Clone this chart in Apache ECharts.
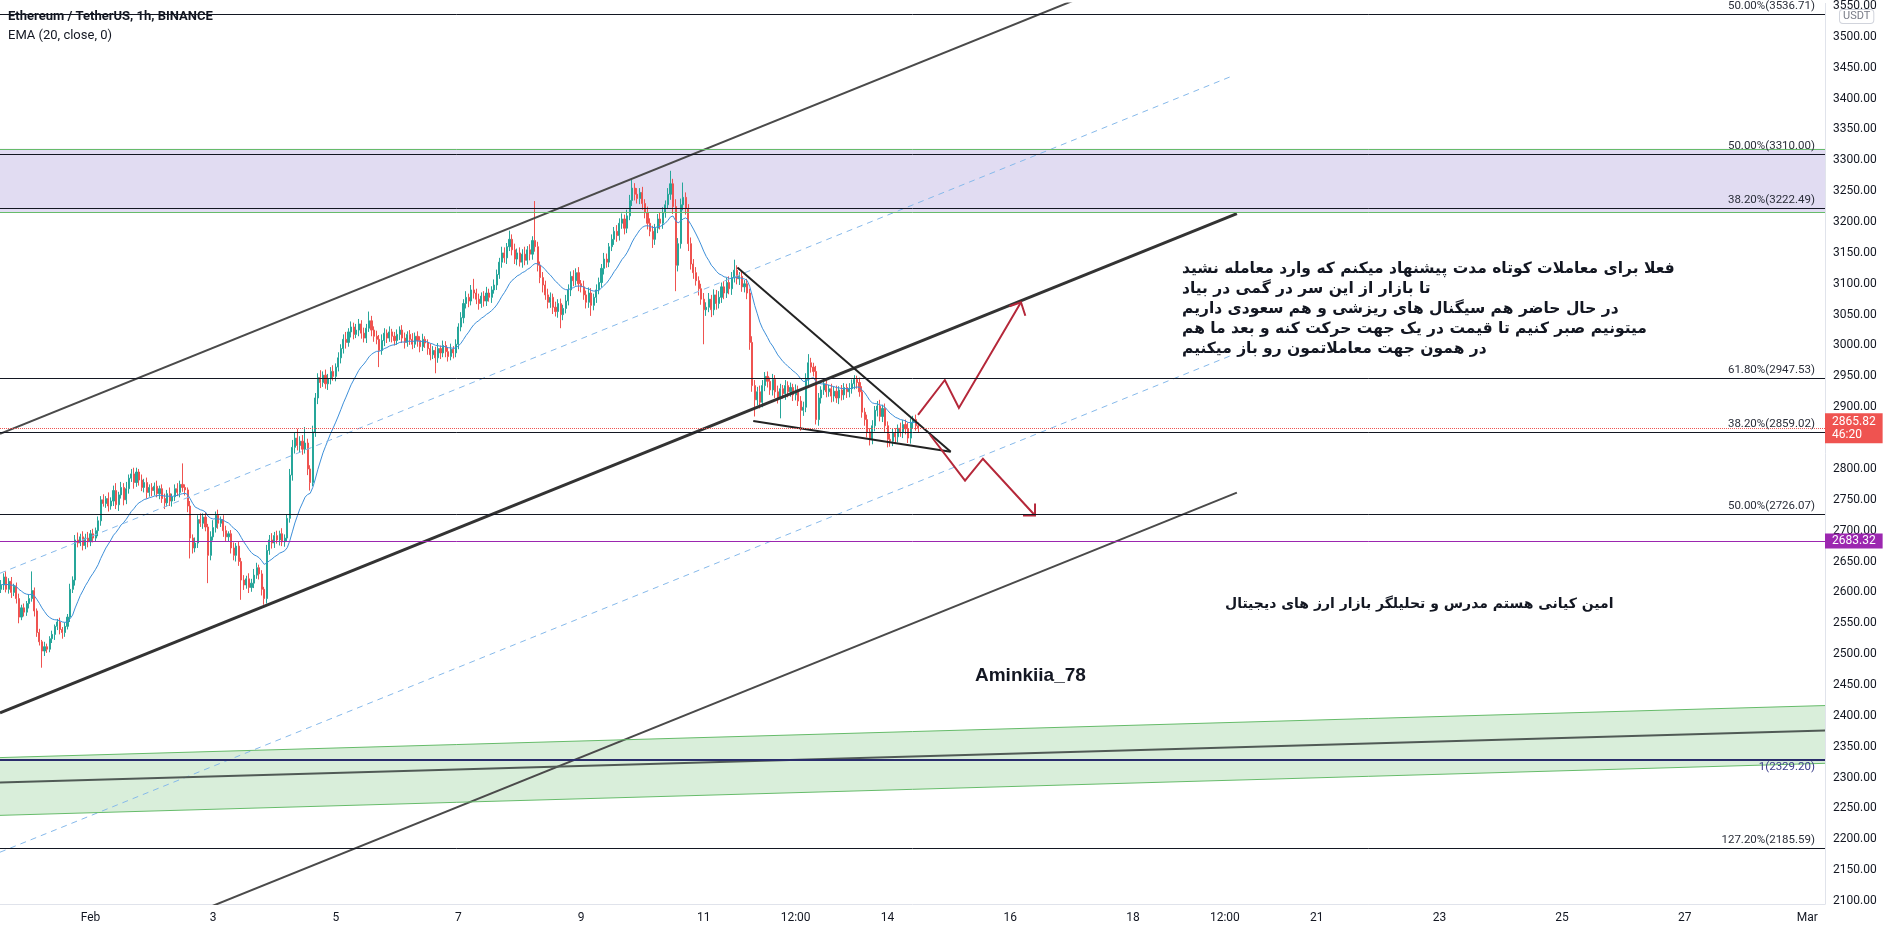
<!DOCTYPE html>
<html>
<head>
<meta charset="utf-8">
<title>ETHUSDT 1h</title>
<script src="https://cdn.jsdelivr.net/npm/echarts@6/dist/echarts.min.js"></script>
<style>
html, body { margin: 0; padding: 0; background: #fff; }
#main { width: 1888px; height: 932px; }
</style>
</head>
<body>
<div id="main"></div>
<script>
// hourly candles, x = hours from Feb 1 00:00, first bar at hourStart
var hourStart = -35;
var firstOpen = 2605;
var closes = [
    2612, 2625, 2605, 2618, 2600, 2610, 2590, 2560, 2575, 2568, 2582, 2590,
    2603, 2570, 2535, 2520, 2505, 2512, 2508, 2525, 2532, 2545, 2552, 2540, 2535, 2545, 2560, 2605, 2620, 2685, 2680, 2690, 2676, 2688, 2682, 2695,
    2688, 2700, 2716, 2750, 2744, 2752, 2740, 2748, 2765, 2742, 2758, 2770, 2750, 2768, 2785, 2792, 2778, 2795, 2782, 2770, 2778, 2762, 2770, 2765,
    2772, 2760, 2768, 2752, 2745, 2760, 2748, 2755, 2768, 2762, 2775, 2770, 2766, 2740, 2688, 2672, 2680, 2718, 2712, 2722, 2706, 2660, 2690, 2705,
    2725, 2712, 2718, 2700, 2690, 2695, 2672, 2660, 2675, 2650, 2620, 2612, 2622, 2608, 2615, 2628, 2640, 2630, 2605, 2590, 2668, 2685, 2680, 2692,
    2685, 2695, 2682, 2688, 2720, 2790, 2835, 2850, 2838, 2845, 2832, 2842, 2800, 2778, 2860, 2915, 2948, 2940, 2952, 2938, 2946, 2958, 2950, 2965,
    2980, 2995, 3010, 3005, 3022, 3030, 3018, 3025, 3035, 3020, 3012, 3028, 3040, 3025, 3015, 3010, 2992, 3008, 3020, 3012, 3022, 3015, 3008, 3018,
    3025, 3012, 3005, 3018, 3010, 3002, 3015, 3008, 2998, 3010, 3004, 2995, 2985, 2992, 2980, 2995, 2988, 3000, 2990, 2982, 2994, 2988, 3002, 3030,
    3045, 3068, 3078, 3072, 3090, 3085, 3075, 3068, 3080, 3072, 3085, 3078, 3090, 3098, 3115, 3135, 3150, 3142, 3160, 3172, 3155, 3140, 3150, 3135,
    3148, 3138, 3155, 3148, 3170, 3160, 3130, 3110, 3098, 3082, 3070, 3078, 3062, 3055, 3068, 3050, 3060, 3072, 3090, 3112, 3105, 3118, 3100, 3095,
    3082, 3070, 3085, 3065, 3078, 3090, 3102, 3125, 3140, 3135, 3160, 3172, 3185, 3178, 3198, 3205, 3190, 3210, 3235, 3255, 3245, 3238, 3248, 3230,
    3215, 3198, 3185, 3172, 3190, 3205, 3198, 3215, 3228, 3245, 3262, 3225, 3130, 3165, 3228, 3240, 3222, 3165, 3132, 3118, 3105, 3092, 3075, 3058,
    3062, 3075, 3058, 3082, 3068, 3078, 3095, 3085, 3102, 3092, 3110, 3122, 3108, 3112, 3095, 3100, 3085, 3005, 2935, 2912, 2925, 2908, 2935, 2950,
    2942, 2928, 2945, 2925, 2915, 2930, 2922, 2935, 2925, 2932, 2920, 2928, 2910, 2895, 2900, 2945, 2972, 2965, 2958, 2880, 2915, 2928, 2938, 2925,
    2930, 2918, 2926, 2915, 2928, 2920, 2932, 2925, 2930, 2938, 2945, 2940, 2925, 2892, 2880, 2860, 2848, 2870, 2895, 2902, 2885, 2898, 2870, 2848,
    2845, 2858, 2852, 2866, 2860, 2872, 2865, 2850, 2875, 2880, 2870, 2865.82
];
var wickUp = [
    8, 6, 9, 5, 7, 4, 6, 8, 5, 7, 4, 6,
    31, 5, 4, 6, 3, 8, 5, 4, 6, 3, 5, 7, 4, 6, 5, 9, 6, 8, 12, 5, 9, 7, 10, 6,
    8, 5, 7, 6, 9, 4, 10, 6, 8, 12, 5, 9, 7, 11, 6, 8, 10, 7, 5, 9, 6, 8, 5, 7,
    6, 9, 5, 7, 8, 6, 10, 5, 7, 9, 6, 34, 5, 4, 8, 6, 9, 7, 10, 6, 8, 5, 9, 12,
    6, 9, 5, 7, 8, 4, 6, 9, 5, 7, 6, 8, 5, 9, 7, 10, 8, 5, 6, 4, 9, 8, 11, 6,
    8, 5, 9, 6, 7, 10, 12, 9, 15, 8, 10, 26, 7, 6, 10, 8, 7, 12, 6, 9, 8, 7, 10, 6,
    9, 7, 8, 12, 6, 9, 7, 10, 8, 6, 9, 7, 15, 8, 6, 9, 7, 10, 8, 6, 9, 5, 7, 8,
    6, 8, 9, 5, 7, 10, 6, 8, 7, 9, 5, 6, 8, 7, 6, 9, 5, 8, 7, 6, 9, 5, 8, 6,
    9, 7, 10, 6, 8, 18, 7, 9, 6, 8, 10, 7, 6, 9, 8, 7, 10, 9, 6, 14, 8, 10, 7, 9,
    8, 12, 6, 9, 7, 64, 8, 6, 9, 7, 10, 8, 6, 9, 7, 8, 6, 10, 9, 8, 10, 7, 9, 6,
    10, 7, 9, 8, 6, 9, 8, 7, 10, 9, 6, 8, 7, 10, 8, 9, 7, 10, 9, 15, 8, 10, 7, 9,
    7, 10, 8, 9, 7, 8, 10, 9, 7, 10, 21, 8, 12, 9, 10, 24, 8, 7, 10, 8, 9, 7, 8, 10,
    8, 10, 7, 9, 8, 10, 7, 9, 8, 10, 9, 17, 8, 7, 9, 6, 8, 7, 10, 9, 8, 10, 9, 7,
    8, 6, 9, 7, 10, 8, 6, 9, 7, 8, 6, 9, 7, 8, 9, 10, 14, 8, 7, 9, 8, 6, 9, 7,
    6, 8, 7, 9, 6, 8, 7, 6, 9, 7, 7, 6, 8, 9, 7, 8, 6, 9, 7, 8, 10, 6, 8, 7,
    9, 7, 8, 6, 9, 7, 8, 10, 7, 6, 8, 5
];
var wickDn = [
    6, 8, 5, 7, 9, 6, 8, 10, 5, 7, 6, 8,
    5, 9, 7, 6, 27, 8, 6, 5, 7, 9, 6, 8, 10, 7, 5, 8, 6, 9, 7, 5, 8, 6, 9, 7,
    7, 6, 9, 8, 5, 7, 9, 6, 8, 7, 10, 6, 9, 7, 8, 6, 10, 7, 9, 6, 8, 10, 7, 9,
    8, 6, 9, 7, 10, 6, 8, 9, 7, 6, 8, 7, 9, 10, 33, 9, 7, 8, 6, 9, 7, 45, 8, 6,
    8, 9, 6, 10, 8, 7, 9, 8, 10, 7, 32, 8, 6, 9, 7, 8, 6, 9, 10, 10, 8, 7, 9, 8,
    6, 9, 7, 8, 6, 7, 9, 10, 8, 12, 9, 7, 10, 13, 6, 8, 10, 9, 7, 8, 10, 9, 7, 8,
    7, 9, 8, 10, 7, 9, 8, 6, 10, 9, 7, 8, 6, 10, 9, 8, 27, 7, 9, 8, 6, 10, 8, 7,
    9, 8, 10, 7, 9, 8, 6, 10, 9, 7, 8, 10, 9, 7, 25, 8, 10, 7, 9, 8, 6, 9, 7, 8,
    7, 9, 8, 10, 7, 9, 8, 10, 7, 9, 8, 7, 9, 6, 8, 7, 9, 8, 10, 7, 9, 8, 10, 7,
    9, 8, 7, 10, 9, 8, 10, 9, 12, 8, 10, 9, 11, 8, 10, 22, 9, 8, 7, 10, 9, 8, 12, 9,
    8, 10, 9, 17, 8, 9, 7, 8, 10, 9, 8, 7, 9, 10, 8, 9, 10, 8, 7, 9, 10, 8, 9, 10,
    9, 10, 8, 14, 9, 8, 10, 9, 8, 7, 9, 12, 42, 10, 8, 9, 10, 12, 9, 10, 8, 11, 9, 56,
    10, 8, 12, 9, 10, 8, 9, 10, 8, 9, 10, 8, 9, 10, 8, 9, 10, 12, 10, 27, 9, 10, 8, 9,
    10, 8, 9, 10, 9, 33, 8, 10, 9, 8, 10, 9, 8, 33, 9, 8, 10, 9, 8, 8, 10, 9, 8, 9,
    8, 10, 9, 8, 10, 9, 8, 10, 9, 8, 9, 10, 8, 9, 10, 9, 10, 8, 9, 10, 8, 9, 10, 13,
    9, 8, 10, 9, 8, 10, 9, 8, 9, 10, 8, 7
];

var xLabelHours = [0, 48, 96, 144, 192, 240, 276, 312, 360, 408, 444, 480, 528, 576, 624, 672];
var xLabelTexts = ['Feb', '3', '5', '7', '9', '11', '12:00', '14', '16', '18', '12:00', '21', '23', '25', '27', 'Mar'];
var yTickValues = [2100, 2150, 2200, 2250, 2300, 2350, 2400, 2450, 2500, 2550, 2600, 2650, 2700, 2750, 2800,
    2850, 2900, 2950, 3000, 3050, 3100, 3150, 3200, 3250, 3300, 3350, 3400, 3450, 3500, 3550];

// fib levels drawn across the chart
var fibLevels = [3536.71, 3310.00, 3222.49, 2947.53, 2859.02, 2726.07, 2329.20, 2185.59];
var fibRatios = ['50.00%', '50.00%', '38.20%', '61.80%', '38.20%', '50.00%', '1', '127.20%'];
var zoneTop = 3318.6, zoneBottom = 3216.0;
var priceNow = 2865.82, countdown = '46:20';
var alertLevel = 2683.32;

// drawings, [hour, price]
var channelUpper = [[-35.42, 2857.0], [448.7, 3665.6]];
var channelMain = [[-35.42, 2405.0], [448.7, 3213.6]];
var channelLower = [[-35.42, 1953.2], [448.7, 2761.7]];
var channelMidUpper = [[-35.42, 2631.0], [446.0, 3435.1]];
var channelMidLower = [[-35.42, 2179.1], [446.0, 2983.0]];
var wedgeTop = [[253.2, 3126.5], [336.7, 2827.9]];
var wedgeBottom = [[259.4, 2877.5], [336.7, 2827.9]];
var arrowUp = [[323.9, 2887.6], [334.4, 2944.1], [339.9, 2898.9], [364.2, 3070.0]];
var arrowUpHead = [[359.7, 3063.6], [364.2, 3070.0], [365.9, 3048.2]];
var arrowDown = [[328.6, 2855.4], [342.3, 2781.1], [349.3, 2816.6], [369.7, 2724.6]];
var arrowDownHead = [[369.7, 2744.0], [369.7, 2724.6], [365.0, 2724.6]];
var bandUpper = [[-35.42, 2332.4], [678.9, 2416.7]];
var bandLower = [[-35.42, 2238.8], [678.9, 2323.1]];
var bandMiddle = [[-35.42, 2292.1], [678.9, 2376.3]];

var noteLines = [
    'فعلا برای معاملات کوتاه مدت پیشنهاد میکنم که وارد معامله نشید',
    'تا بازار از این سر در گمی در بیاد',
    'در حال حاضر هم سیگنال های ریزشی و هم سعودی داریم',
    'میتونیم صبر کنیم تا قیمت در یک جهت حرکت کنه و بعد ما هم',
    'در همون جهت معاملاتمون رو باز میکنیم'
];
var authorLine = 'امین کیانی هستم مدرس و تحلیلگر بازار ارز های دیجیتال';
var authorTag = 'Aminkiia_78';

var xMin = -35.42, xMax = 678.9;
var yMin = 2095.2, yMax = 3554.2;

var candles = [];
var ema = [];
var prev = firstOpen, e = closes[0];
for (var i = 0; i < closes.length; i++) {
    var o = prev, c = closes[i];
    candles.push([hourStart + i, o, c, Math.min(o, c) - wickDn[i], Math.max(o, c) + wickUp[i]]);
    e = i === 0 ? c : e + (c - e) * 2 / 21;
    ema.push([hourStart + i, e]);
    prev = c;
}

var labelMap = {};
xLabelHours.forEach(function (h, i) { labelMap[h] = xLabelTexts[i]; });

function drawing(pts, color, width, type) {
    return {
        type: 'line', data: pts, symbol: 'none', showSymbol: false, silent: true, z: 4,
        lineStyle: { color: color, width: width, type: type || 'solid', join: 'miter' }
    };
}

function polygonSeries(corners, fill, z) {
    return {
        type: 'custom', silent: true, z: z, clip: true, data: [[xMin, yMin]],
        renderItem: function (params, api) {
            return {
                type: 'polygon',
                shape: { points: corners.map(function (p) { return api.coord(p); }) },
                style: { fill: fill }
            };
        }
    };
}

var marks = fibLevels.map(function (v, i) {
    var isOne = fibRatios[i] === '1';
    return {
        yAxis: v,
        lineStyle: { color: isOne ? '#2a2d6b' : '#131722', width: isOne ? 2 : 1, type: 'solid' },
        label: {
            show: true, position: isOne ? 'insideEndBottom' : 'insideEndTop',
            formatter: fibRatios[i] + '(' + v.toFixed(2) + ')',
            color: isOne ? '#3b3d8a' : '#2a2e39', fontSize: 11.5, distance: [10, 2]
        }
    };
});
marks.push({ yAxis: zoneTop, lineStyle: { color: '#66bb6a', width: 1, type: 'solid' }, label: { show: false } });
marks.push({ yAxis: zoneBottom, lineStyle: { color: '#66bb6a', width: 1, type: 'solid' }, label: { show: false } });
marks.push({
    yAxis: alertLevel,
    lineStyle: { color: '#9c27b0', width: 1, type: 'solid' },
    label: {
        show: true, position: 'end', distance: 0, formatter: alertLevel.toFixed(2),
        backgroundColor: '#9c27b0', color: '#fff', fontSize: 12, lineHeight: 13, padding: [1, 7]
    }
});
marks.push({
    yAxis: priceNow,
    lineStyle: { color: '#ef5350', width: 1, type: 'dotted' },
    label: {
        show: true, position: 'end', distance: 0, formatter: priceNow.toFixed(2) + '\n' + countdown,
        backgroundColor: '#ef5350', color: '#fff', fontSize: 12, lineHeight: 13, padding: [2, 7]
    }
});

var myChart = echarts.init(document.getElementById('main'));
var option = {
    animation: false,
    backgroundColor: '#ffffff',
    textStyle: { fontFamily: 'Roboto, sans-serif' },
    title: {
        left: 8, top: 10, padding: 0, itemGap: 6,
        text: 'Ethereum / TetherUS, 1h, BINANCE',
        subtext: 'EMA (20, close, 0)',
        textStyle: { fontSize: 13, fontWeight: 'bold', color: '#131722', fontFamily: 'Roboto' },
        subtextStyle: { fontSize: 13, color: '#131722', fontFamily: 'Roboto' }
    },
    grid: { left: 0, right: 63, top: 0, bottom: 28, containLabel: false },
    xAxis: {
        type: 'value', min: xMin, max: xMax,
        splitLine: { show: false },
        axisTick: { show: false },
        axisLine: { show: true, onZero: false, lineStyle: { color: '#e0e3eb' } },
        axisLabel: {
            customValues: xLabelHours, color: '#131722', fontSize: 12, margin: 8,
            formatter: function (v) { return labelMap[v] || ''; }
        }
    },
    yAxis: {
        type: 'value', position: 'right', min: yMin, max: yMax, scale: true,
        splitLine: { show: false },
        axisTick: { show: false },
        axisLine: { show: true, onZero: false, lineStyle: { color: '#e0e3eb' } },
        axisLabel: {
            customValues: yTickValues, color: '#131722', fontSize: 12, margin: 8,
            formatter: function (v) { return v.toFixed(2); }
        }
    },
    series: [
        polygonSeries([[xMin, zoneTop], [xMax, zoneTop], [xMax, zoneBottom], [xMin, zoneBottom]], '#e1dcf2', 0),
        polygonSeries([bandUpper[0], bandUpper[1], bandLower[1], bandLower[0]], 'rgba(102,187,106,0.25)', 0),
        {
            type: 'candlestick', data: candles, z: 2, barWidth: 1.6,
            encode: { x: 0, y: [1, 2, 3, 4] },
            itemStyle: {
                color: '#26a69a', color0: '#ef5350',
                borderColor: '#26a69a', borderColor0: '#ef5350', borderWidth: 1
            }
        },
        {
            type: 'line', data: ema, symbol: 'none', showSymbol: false, silent: true, z: 3, clip: false,
            lineStyle: { color: '#3d8fd9', width: 1 },
            markLine: { symbol: ['none', 'none'], silent: true, animation: false, data: marks }
        },
        drawing(channelMidUpper, '#86b9ea', 1, [6, 5]),
        drawing(channelMidLower, '#86b9ea', 1, [6, 5]),
        drawing(channelUpper, '#4a4a4a', 2),
        drawing(channelMain, '#333333', 3),
        drawing(channelLower, '#4a4a4a', 2),
        drawing(bandUpper, '#66bb6a', 1),
        drawing(bandLower, '#66bb6a', 1),
        drawing(bandMiddle, '#505a55', 2),
        drawing(wedgeTop, '#222222', 2),
        drawing(wedgeBottom, '#222222', 2),
        drawing(arrowUp, '#b5283a', 2),
        drawing(arrowUpHead, '#b5283a', 2),
        drawing(arrowDown, '#b5283a', 2),
        drawing(arrowDownHead, '#b5283a', 2)
    ],
    graphic: [
        {
            type: 'text', left: 1839, top: 9, z: 100,
            style: {
                text: 'USDT', fontSize: 11, fontFamily: 'Roboto', fill: '#787b86',
                backgroundColor: '#fff', borderColor: '#d1d4dc', borderWidth: 1, borderRadius: 3, padding: [1, 3]
            }
        },
        {
            type: 'text', left: 1182, top: 259, z: 100,
            style: { text: noteLines.join('\n'), fontSize: 15.5, fontWeight: 'bold', fontFamily: 'DejaVu Sans', fill: '#131722', lineHeight: 20 }
        },
        {
            type: 'text', left: 1225, top: 597, z: 100,
            style: { text: authorLine, fontSize: 14, fontWeight: 'bold', fontFamily: 'DejaVu Sans', fill: '#131722' }
        },
        {
            type: 'text', left: 975, top: 666, z: 100,
            style: { text: authorTag, fontSize: 19, fontWeight: 'bold', fontFamily: 'Liberation Sans', fill: '#131722' }
        }
    ]
};
myChart.setOption(option);
</script>
</body>
</html>
